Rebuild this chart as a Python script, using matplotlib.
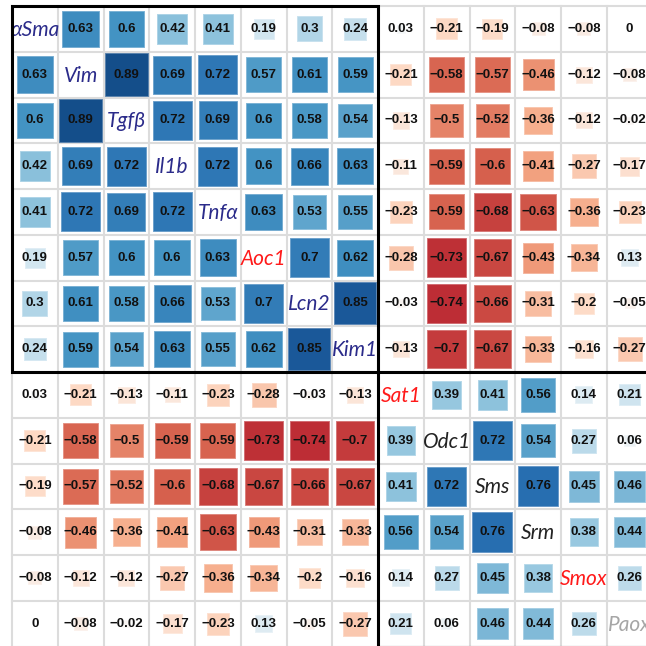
import numpy as np
import matplotlib
matplotlib.use("Agg")
import matplotlib.pyplot as plt
from matplotlib.patches import Rectangle
from matplotlib.colors import to_rgb

genes = ["αSma", "Vim", "Tgfβ", "Il1b", "Tnfα", "Aoc1", "Lcn2", "Kim1",
         "Sat1", "Odc1", "Sms", "Srm", "Smox", "Paox"]
gene_colors = ["#2b2b8a"] * 5 + ["#ff1a1a", "#2b2b8a", "#2b2b8a",
               "#ff1a1a", "#222222", "#222222", "#222222", "#ff1a1a", "#a6a6a6"]

# correlation matrix (diagonal left empty)
nan = np.nan
corr = np.array([
    [nan, 0.63, 0.6, 0.42, 0.41, 0.19, 0.3, 0.24, 0.03, -0.21, -0.19, -0.08, -0.08, 0],
    [0.63, nan, 0.89, 0.69, 0.72, 0.57, 0.61, 0.59, -0.21, -0.58, -0.57, -0.46, -0.12, -0.08],
    [0.6, 0.89, nan, 0.72, 0.69, 0.6, 0.58, 0.54, -0.13, -0.5, -0.52, -0.36, -0.12, -0.02],
    [0.42, 0.69, 0.72, nan, 0.72, 0.6, 0.66, 0.63, -0.11, -0.59, -0.6, -0.41, -0.27, -0.17],
    [0.41, 0.72, 0.69, 0.72, nan, 0.63, 0.53, 0.55, -0.23, -0.59, -0.68, -0.63, -0.36, -0.23],
    [0.19, 0.57, 0.6, 0.6, 0.63, nan, 0.7, 0.62, -0.28, -0.73, -0.67, -0.43, -0.34, 0.13],
    [0.3, 0.61, 0.58, 0.66, 0.53, 0.7, nan, 0.85, -0.03, -0.74, -0.66, -0.31, -0.2, -0.05],
    [0.24, 0.59, 0.54, 0.63, 0.55, 0.62, 0.85, nan, -0.13, -0.7, -0.67, -0.33, -0.16, -0.27],
    [0.03, -0.21, -0.13, -0.11, -0.23, -0.28, -0.03, -0.13, nan, 0.39, 0.41, 0.56, 0.14, 0.21],
    [-0.21, -0.58, -0.5, -0.59, -0.59, -0.73, -0.74, -0.7, 0.39, nan, 0.72, 0.54, 0.27, 0.06],
    [-0.19, -0.57, -0.52, -0.6, -0.68, -0.67, -0.66, -0.67, 0.41, 0.72, nan, 0.76, 0.45, 0.46],
    [-0.08, -0.46, -0.36, -0.41, -0.63, -0.43, -0.31, -0.33, 0.56, 0.54, 0.76, nan, 0.38, 0.44],
    [-0.08, -0.12, -0.12, -0.27, -0.36, -0.34, -0.2, -0.16, 0.14, 0.27, 0.45, 0.38, nan, 0.26],
    [0, -0.08, -0.02, -0.17, -0.23, 0.13, -0.05, -0.27, 0.21, 0.06, 0.46, 0.44, 0.26, nan],
])

n = len(genes)
cmap = plt.get_cmap("RdBu")

fig = plt.figure(figsize=(6.46, 6.46), dpi=100)
cell = 45.75 / 646
ax = fig.add_axes([12 / 646, 1 - (6 + n * 45.75) / 646, n * cell, n * cell])
ax.set_xlim(0, n)
ax.set_ylim(n, 0)
ax.axis("off")

# light grid
for k in range(n + 1):
    ax.plot([k, k], [0, n], color="#dcdcdc", lw=1.5, zorder=1, clip_on=False)
    ax.plot([0, n], [k, k], color="#dcdcdc", lw=1.5, zorder=1, clip_on=False)

for i in range(n):
    for j in range(n):
        v = corr[i, j]
        if np.isnan(v):
            ax.text(j + 0.5, i + 0.52, genes[i], ha="center", va="center",
                    fontsize=15, style="italic", color=gene_colors[i],
                    family=["Lato", "DejaVu Sans"], zorder=4)
            continue
        s = np.sqrt(abs(v))
        c = cmap((v + 1) / 2)
        edge = tuple(0.7 * np.array(to_rgb(c)) + 0.3)
        ax.add_patch(Rectangle((j + 0.5 - s / 2, i + 0.5 - s / 2), s, s,
                               facecolor=c, edgecolor=edge, lw=0.7, zorder=2))
        label = f"{v:g}".replace("-", "\u2212")
        ax.text(j + 0.5, i + 0.5, label, ha="center", va="center",
                fontsize=9.5, fontweight="bold", color="#111111",
                family="Liberation Sans", zorder=3)

# black block frames
ax.add_patch(Rectangle((0, 0), 8, 8, fill=False, edgecolor="black", lw=2.2,
                       zorder=5, clip_on=False))
ax.add_patch(Rectangle((8, 8), 6, 6, fill=False, edgecolor="black", lw=2.2,
                       zorder=5, clip_on=False))

fig.savefig("out.png", dpi=100)
